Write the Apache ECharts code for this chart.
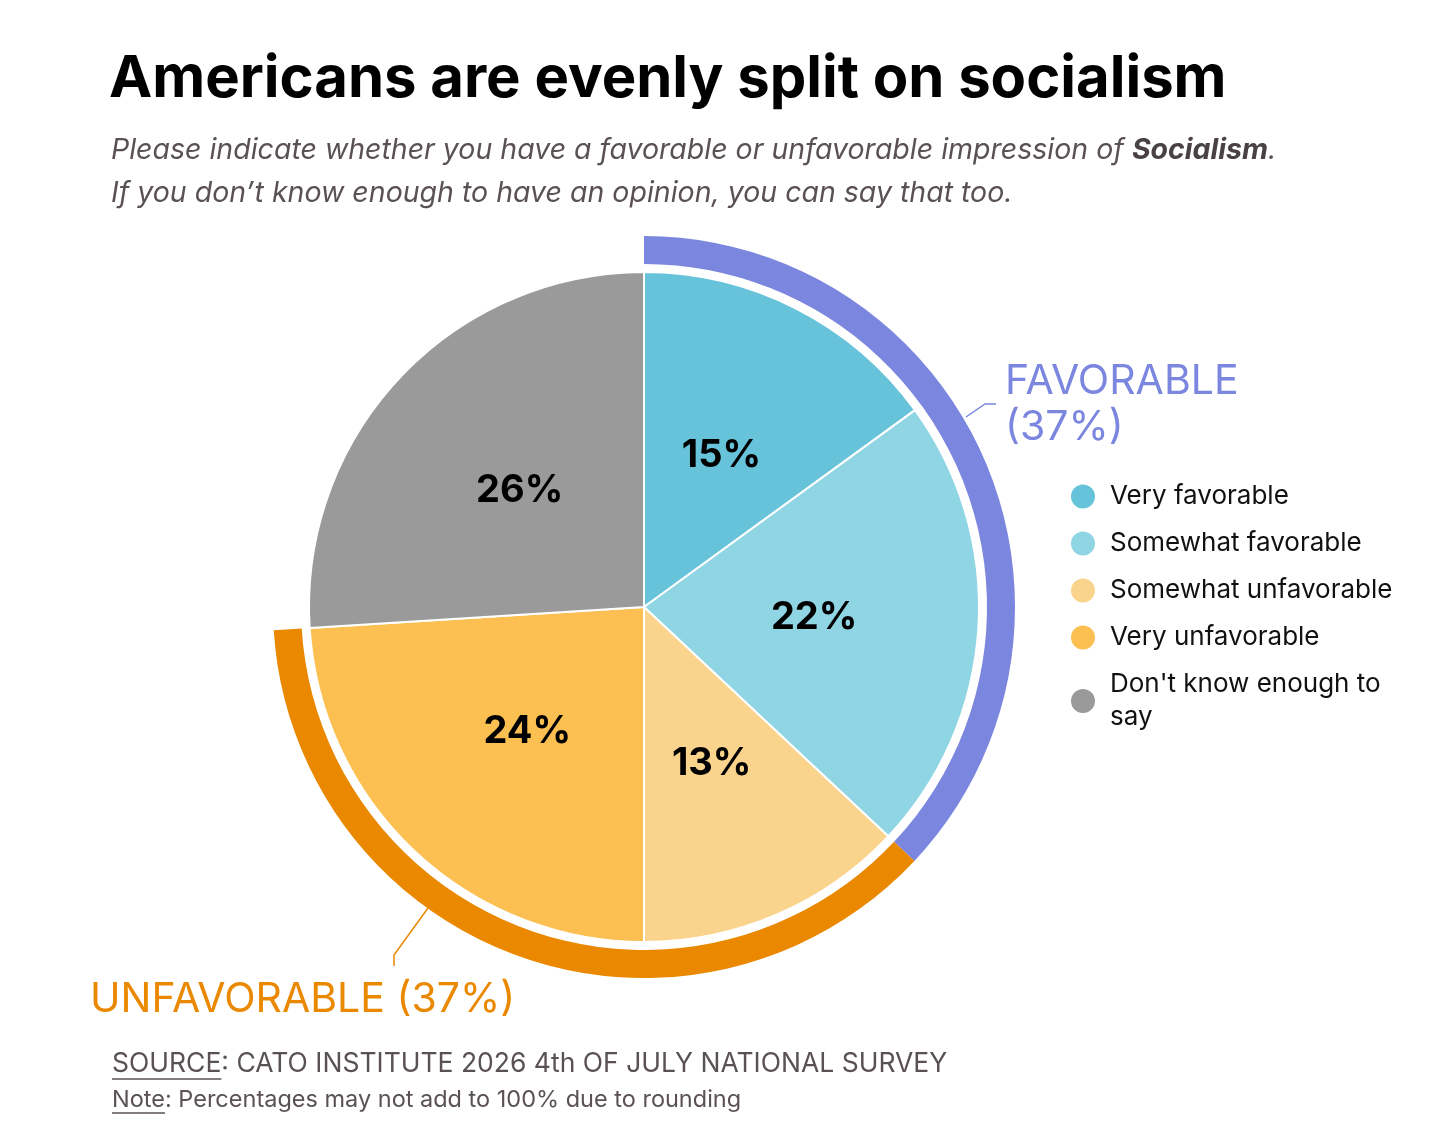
<!DOCTYPE html>
<html>
<head>
<meta charset="utf-8">
<script src="https://cdn.jsdelivr.net/npm/echarts@6/dist/echarts.min.js"></script>
<style>
  html, body { margin: 0; padding: 0; background: #fff; }
  #chart { width: 1456px; height: 1133px; }
</style>
</head>
<body>
<div id="chart"></div>
<script>
// survey answers, clockwise from 12 o'clock
var categories = ['Very favorable', 'Somewhat favorable', 'Somewhat unfavorable', 'Very unfavorable', "Don't know enough to say"]
var values = [15, 22, 13, 24, 26]
var sliceColors = ['#67c3d9', '#8fd5e3', '#fad48c', '#fbbf52', '#9a9a9a']

// outer ring groups: which slices each one sums
var groupNames = ['FAVORABLE', 'UNFAVORABLE']
var groupMembers = [[0, 1], [2, 3]]
var groupColors = ['#7b86df', '#ea8900']

var titleText = 'Americans are evenly split on socialism'
var subtitleText = 'Please indicate whether you have a favorable or unfavorable impression of {b|Socialism}.\nIf you don\u2019t know enough to have an opinion, you can say that too.'
var sourceLead = 'SOURCE', sourceRest = ': CATO INSTITUTE 2026 4th OF JULY NATIONAL SURVEY'
var noteLead = 'Note', noteRest = ': Percentages may not add to 100% due to rounding'

var FONT = 'Inter, "Noto Sans", sans-serif'
var CX = 644, CY = 607

var chart = echarts.init(document.getElementById('chart'))

// width of a text run, used for the underlines
function textWidth(txt, size) {
  var ctx = document.createElement('canvas').getContext('2d')
  ctx.font = size + 'px ' + FONT
  return ctx.measureText(txt).width
}

// build ring values from the slice values
var groupValues = groupMembers.map(function (m) {
  var s = 0
  m.forEach(function (i) { s += values[i] })
  return s
})
var rest = values.reduce(function (a, b) { return a + b }, 0) - groupValues[0] - groupValues[1]

var pieData = categories.map(function (c, i) {
  return { name: c, value: values[i], itemStyle: { color: sliceColors[i] } }
})
var ringData = groupNames.map(function (g, i) {
  return { name: g, value: groupValues[i], itemStyle: { color: groupColors[i] } }
})
ringData.push({ name: 'rest', value: rest, itemStyle: { color: 'rgba(0,0,0,0)' } })

var srcSize = 26.5, noteSize = 23.5

var option = {
  backgroundColor: '#fff',
  animation: false,
  title: [
    {
      text: titleText,
      left: 104,
      top: 46,
      textStyle: { fontFamily: FONT, fontSize: 58, fontWeight: 'bold', color: '#000' }
    },
    {
      text: subtitleText,
      left: 106,
      top: 124,
      textStyle: {
        fontFamily: FONT, fontSize: 28.5, fontStyle: 'italic', fontWeight: 'normal',
        color: '#5a5252', lineHeight: 43,
        rich: {
          b: { fontFamily: FONT, fontSize: 28.5, fontStyle: 'italic', fontWeight: 'bold', color: '#4a4242', lineHeight: 43 }
        }
      }
    }
  ],
  legend: {
    orient: 'vertical',
    left: 1069,
    top: 480,
    padding: 0,
    data: categories,
    icon: 'circle',
    itemWidth: 26,
    itemHeight: 26,
    itemGap: 14,
    selectedMode: false,
    formatter: function (name) {
      return name === categories[4] ? "Don't know enough to\nsay" : name
    },
    textStyle: { fontFamily: FONT, fontSize: 26, color: '#111', lineHeight: 33, padding: [0, 0, 0, 9] }
  },
  series: [
    {
      type: 'pie',
      center: [CX, CY],
      radius: [0, 335],
      startAngle: 90,
      clockwise: true,
      silent: true,
      avoidLabelOverlap: false,
      itemStyle: { borderColor: '#fff', borderWidth: 2 },
      label: {
        show: true,
        position: 'inside',
        formatter: '{c}%',
        fontFamily: FONT,
        fontSize: 38,
        fontWeight: 'bold',
        color: '#000'
      },
      labelLine: { show: false },
      data: pieData
    },
    {
      type: 'pie',
      center: [CX, CY],
      radius: [343, 371],
      startAngle: 90,
      clockwise: true,
      silent: true,
      label: { show: false },
      labelLine: { show: false },
      data: ringData
    }
  ],
  graphic: [
    // callouts for the ring
    {
      type: 'polyline',
      shape: { points: [[966, 417], [985, 404], [996, 404]] },
      style: { stroke: groupColors[0], lineWidth: 1.5, fill: null }
    },
    {
      type: 'text',
      left: 1005,
      top: 359,
      style: {
        text: groupNames[0] + '\n(' + groupValues[0] + '%)',
        fontFamily: FONT, fontSize: 41, lineHeight: 46, fill: groupColors[0]
      }
    },
    {
      type: 'polyline',
      shape: { points: [[428, 908], [394, 955], [394, 966]] },
      style: { stroke: groupColors[1], lineWidth: 1.5, fill: null }
    },
    {
      type: 'text',
      left: 90,
      top: 977,
      style: {
        text: groupNames[1] + ' (' + groupValues[1] + '%)',
        fontFamily: FONT, fontSize: 41, lineHeight: 46, fill: groupColors[1]
      }
    },
    // source + note
    {
      type: 'text',
      left: 112,
      top: 1051,
      style: { text: sourceLead + sourceRest, fontFamily: FONT, fontSize: srcSize, fill: '#5a5252' }
    },
    {
      type: 'line',
      shape: { x1: 112, y1: 1079, x2: 112 + textWidth(sourceLead, srcSize), y2: 1079 },
      style: { stroke: '#5a5252', lineWidth: 1.5 }
    },
    {
      type: 'text',
      left: 112,
      top: 1088,
      style: { text: noteLead + noteRest, fontFamily: FONT, fontSize: noteSize, fill: '#5a5252' }
    },
    {
      type: 'line',
      shape: { x1: 112, y1: 1113, x2: 112 + textWidth(noteLead, noteSize), y2: 1113 },
      style: { stroke: '#5a5252', lineWidth: 1.5 }
    }
  ]
}

chart.setOption(option)
</script>
</body>
</html>
